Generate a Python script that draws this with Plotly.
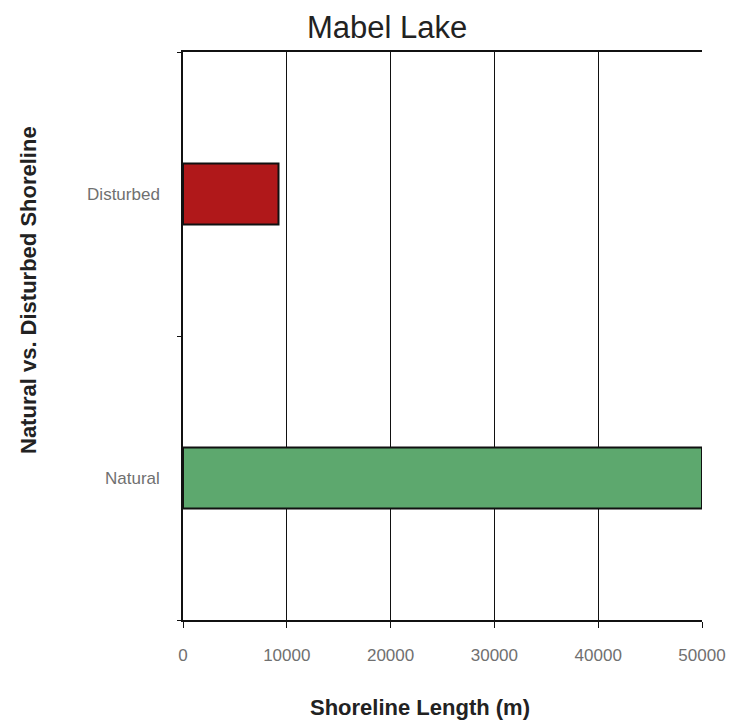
import plotly.graph_objects as go

categories = ["Natural", "Disturbed"]
lengths = [50000, 9200]
bar_colors = ["#5DA86E", "#B0181A"]
x_ticks = [0, 10000, 20000, 30000, 40000, 50000]

W, H = 729, 724
L, R, T, B = 183, 27, 52, 104
PW, PH = W - L - R, H - T - B


def px_x(px):
    return (px - L) / PW


def px_y(py):
    return (H - B - py) / PH


fig = go.Figure()
fig.add_trace(go.Bar(
    y=categories, x=lengths, orientation="h",
    marker=dict(color=bar_colors, line=dict(color="#111111", width=2)),
    width=0.215, showlegend=False,
))

font = "Liberation Sans Narrow, Arial Narrow, Liberation Sans, Arial, sans-serif"

fig.update_layout(
    width=W, height=H, autosize=False,
    margin=dict(l=L, r=R, t=T, b=B, autoexpand=False),
    paper_bgcolor="white", plot_bgcolor="white",
    font=dict(family=font, color="#333333"),
    xaxis=dict(
        range=[0, 50000], tickvals=x_ticks, ticktext=[str(v) for v in x_ticks],
        showgrid=True, gridcolor="#111111", gridwidth=1,
        showline=True, linecolor="#111111", linewidth=1.5, mirror=True,
        ticks="outside", ticklen=6, tickcolor="#111111",
        tickfont=dict(size=17, color="#707070", family=font),
        ticklabelstandoff=13, automargin=False,
        zeroline=False,
    ),
    yaxis=dict(
        range=[-0.5, 1.5], categoryorder="array", categoryarray=categories,
        tickson="boundaries", ticks="outside", ticklen=4, tickcolor="#111111",
        showgrid=False, showline=True, linecolor="#111111", linewidth=1.5,
        tickfont=dict(size=17, color="#707070", family=font),
        ticklabelstandoff=18, automargin=False,
    ),
    annotations=[
        dict(text="Mabel Lake", xref="paper", yref="paper",
             x=px_x(387), y=px_y(27), xanchor="center", yanchor="middle",
             showarrow=False, font=dict(size=31, color="#222222", family=font)),
        dict(text="<b>Shoreline Length (m)</b>", xref="paper", yref="paper",
             x=px_x(420), y=px_y(707), xanchor="center", yanchor="middle",
             showarrow=False, font=dict(size=22, color="#222222", family=font)),
        dict(text="<b>Natural vs. Disturbed Shoreline</b>", textangle=-90,
             xref="paper", yref="paper", x=px_x(28), y=px_y(290),
             xanchor="center", yanchor="middle", showarrow=False,
             font=dict(size=22, color="#222222", family=font)),
    ],
)

fig.write_html(
    "out.html",
    config={"displayModeBar": False, "responsive": False},
    post_script="document.body.style.margin='0';document.body.style.overflow='hidden';",
)
